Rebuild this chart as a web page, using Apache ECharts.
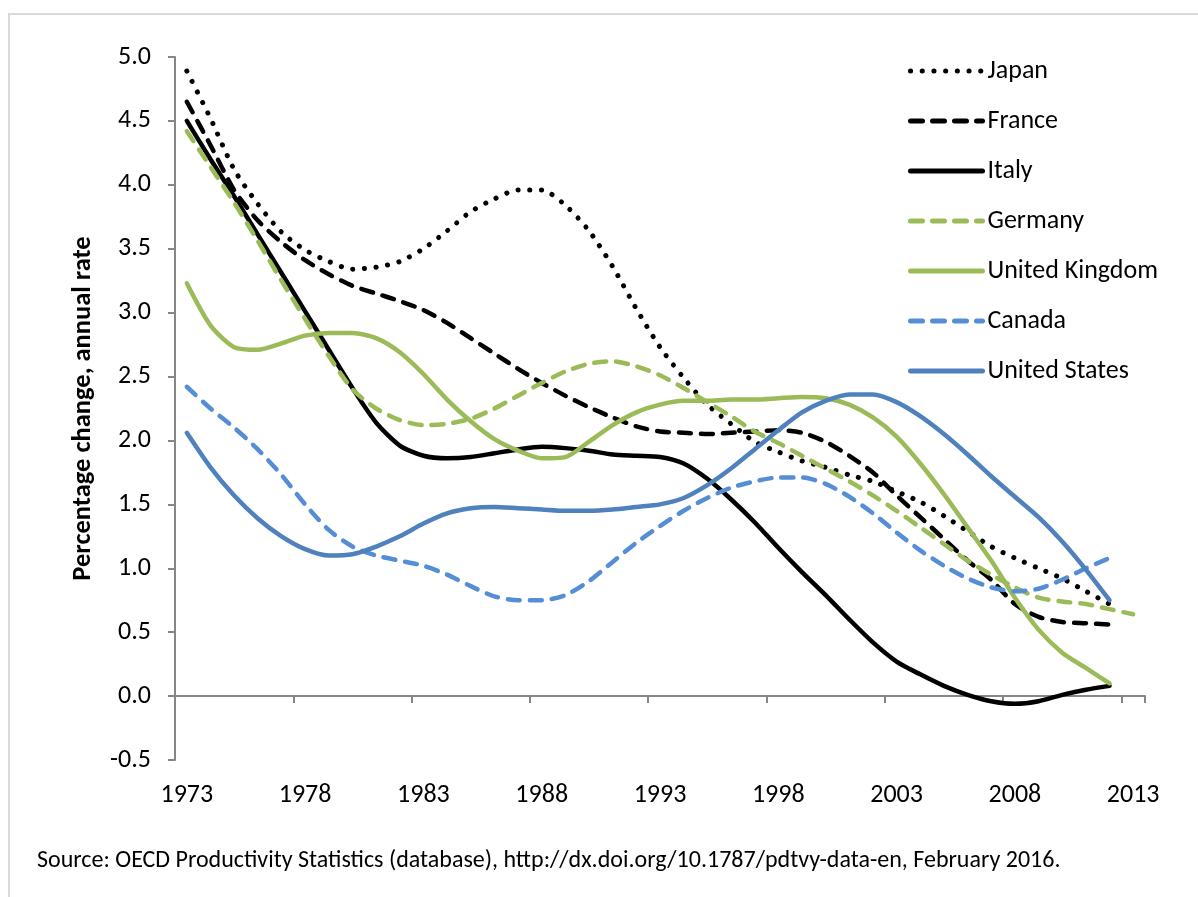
<!DOCTYPE html>
<html>
<head>
<meta charset="utf-8">
<title>Labour productivity growth</title>
<script src="https://cdn.jsdelivr.net/npm/echarts@6/dist/echarts.min.js"></script>
<style>
  html, body { margin: 0; padding: 0; background: #fff; }
  #chart { width: 1198px; height: 897px; }
</style>
</head>
<body>
<div id="chart"></div>
<script>
// categories: 1973 .. 2013 (the axis runs one year past the data)
const years = []
for (let y = 1973; y <= 2013; y++) years.push(String(y))

const yTicks = [-0.5, 0, 0.5, 1, 1.5, 2, 2.5, 3, 3.5, 4, 4.5, 5]

// values, 1973 onward
const japan = [4.89, 4.52, 4.12, 3.85, 3.63, 3.49, 3.40, 3.34, 3.355, 3.40,
  3.50, 3.64, 3.79, 3.89, 3.96, 3.96, 3.84, 3.64, 3.36, 3.03,
  2.73, 2.49, 2.28, 2.13, 1.99, 1.91, 1.84, 1.79, 1.73, 1.68,
  1.60, 1.52, 1.41, 1.29, 1.17, 1.08, 1.00, 0.92, 0.82, 0.72]

const france = [4.65, 4.31, 3.96, 3.72, 3.55, 3.41, 3.30, 3.21, 3.15, 3.09,
  3.02, 2.92, 2.80, 2.68, 2.56, 2.45, 2.35, 2.26, 2.18, 2.11,
  2.07, 2.06, 2.05, 2.06, 2.07, 2.08, 2.06, 1.99, 1.88, 1.75,
  1.57, 1.40, 1.23, 1.06, 0.91, 0.72, 0.62, 0.58, 0.57, 0.56]

const italy = [4.50, 4.20, 3.91, 3.61, 3.31, 3.01, 2.71, 2.41, 2.14, 1.96,
  1.88, 1.86, 1.87, 1.90, 1.93, 1.95, 1.94, 1.92, 1.89, 1.88,
  1.87, 1.82, 1.70, 1.54, 1.36, 1.16, 0.97, 0.79, 0.60, 0.42,
  0.27, 0.17, 0.08, 0.01, -0.04, -0.06, -0.04, 0.01, 0.05, 0.08]

const germany = [4.42, 4.14, 3.86, 3.56, 3.25, 2.95, 2.66, 2.40, 2.25, 2.16,
  2.12, 2.13, 2.17, 2.25, 2.35, 2.45, 2.54, 2.60, 2.62, 2.58,
  2.51, 2.41, 2.30, 2.19, 2.07, 1.98, 1.88, 1.78, 1.68, 1.57,
  1.45, 1.32, 1.19, 1.06, 0.95, 0.85, 0.77, 0.74, 0.72, 0.68, 0.64]

const uk = [3.23, 2.90, 2.73, 2.71, 2.76, 2.82, 2.84, 2.84, 2.80, 2.69,
  2.52, 2.32, 2.15, 2.01, 1.92, 1.86, 1.87, 1.99, 2.12, 2.22,
  2.28, 2.31, 2.31, 2.32, 2.32, 2.33, 2.34, 2.33, 2.28, 2.18,
  2.03, 1.82, 1.58, 1.32, 1.06, 0.77, 0.52, 0.34, 0.22, 0.10]

const canada = [2.42, 2.25, 2.10, 1.93, 1.73, 1.50, 1.30, 1.17, 1.10, 1.06,
  1.02, 0.95, 0.86, 0.78, 0.75, 0.75, 0.79, 0.90, 1.05, 1.20,
  1.33, 1.45, 1.55, 1.63, 1.68, 1.71, 1.71, 1.66, 1.56, 1.43,
  1.28, 1.14, 1.02, 0.92, 0.85, 0.82, 0.84, 0.91, 1.00, 1.08]

const us = [2.06, 1.79, 1.57, 1.39, 1.25, 1.15, 1.10, 1.11, 1.17, 1.25,
  1.35, 1.43, 1.47, 1.48, 1.47, 1.46, 1.45, 1.45, 1.46, 1.48,
  1.50, 1.55, 1.65, 1.78, 1.93, 2.08, 2.22, 2.31, 2.36, 2.36,
  2.30, 2.19, 2.05, 1.89, 1.72, 1.56, 1.40, 1.21, 0.99, 0.75]

const BLACK = '#000000'
const GREEN = '#9bbb59'
const BLUE_D = '#4f81bd'
const BLUE_L = '#558ed5'
const FONT = 'Carlito, Lato, "Liberation Sans", sans-serif'

const makeLine = (name, data, color, width, type) => ({
  name,
  type: 'line',
  data,
  smooth: 0.25,
  symbol: 'none',
  xAxisIndex: 0,
  itemStyle: { color },
  lineStyle: { color, width, type, cap: 'round', join: 'round' },
  emphasis: { disabled: true }
})

const chart = echarts.init(document.getElementById('chart'), null, { renderer: 'canvas' })

const option = {
  backgroundColor: '#fff',
  animation: false,
  textStyle: { fontFamily: FONT },
  grid: { left: 175, right: 53, top: 57, bottom: 137 },
  legend: {
    orient: 'vertical',
    left: 903,
    top: 53,
    itemWidth: 72,
    itemHeight: 14,
    itemGap: 24,
    itemStyle: { opacity: 0 },
    lineStyle: { width: 5, cap: 'round' },
    textStyle: { fontSize: 26, color: '#000', fontFamily: FONT, lineHeight: 26 },
    data: ['Japan', 'France', 'Italy', 'Germany', 'United Kingdom', 'Canada', 'United States']
  },
  xAxis: [
    {
      type: 'category',
      data: years,
      boundaryGap: true,
      axisLine: { onZero: true, lineStyle: { color: '#868686', width: 2 } },
      axisTick: { show: true, interval: 4, length: 7, lineStyle: { color: '#868686', width: 2 } },
      axisLabel: { show: false },
      splitLine: { show: false }
    },
    {
      type: 'category',
      data: years,
      position: 'bottom',
      boundaryGap: true,
      axisLine: { show: false, onZero: false },
      axisTick: { show: false },
      axisLabel: { interval: 4, fontSize: 26, color: '#000', margin: 22, fontFamily: FONT },
      splitLine: { show: false }
    }
  ],
  yAxis: {
    type: 'value',
    min: yTicks[0],
    max: yTicks[yTicks.length - 1],
    interval: 0.5,
    name: 'Percentage change, annual rate',
    nameLocation: 'middle',
    nameGap: 78,
    nameTextStyle: { fontSize: 26.5, fontWeight: 'bold', color: '#000', fontFamily: FONT },
    axisLine: { show: true, lineStyle: { color: '#868686', width: 2 } },
    axisTick: { show: true, length: 7, lineStyle: { color: '#868686', width: 2 } },
    axisLabel: { fontSize: 26, color: '#000', margin: 24, formatter: v => v.toFixed(1) },
    splitLine: { show: false }
  },
  graphic: [
    {
      type: 'polyline',
      shape: { points: [[9, 897], [9, 14], [1198, 14]] },
      style: { stroke: '#d9d9d9', lineWidth: 2, fill: null },
      silent: true
    },
    {
      type: 'text',
      left: 37,
      top: 849,
      style: {
        text: 'Source: OECD Productivity Statistics (database), http://dx.doi.org/10.1787/pdtvy-data-en, February 2016.',
        fontSize: 24,
        fill: '#000',
        fontFamily: FONT
      }
    }
  ],
  series: [
    makeLine('Japan', japan, BLACK, 5, [0.1, 11.6]),
    makeLine('France', france, BLACK, 4.5, [12, 10]),
    makeLine('Italy', italy, BLACK, 4.5, 'solid'),
    makeLine('Germany', germany, GREEN, 4.5, [12, 10]),
    makeLine('United Kingdom', uk, GREEN, 4.5, 'solid'),
    makeLine('Canada', canada, BLUE_L, 4.5, [12, 10]),
    makeLine('United States', us, BLUE_D, 4.5, 'solid')
  ]
}

chart.setOption(option)
</script>
</body>
</html>
